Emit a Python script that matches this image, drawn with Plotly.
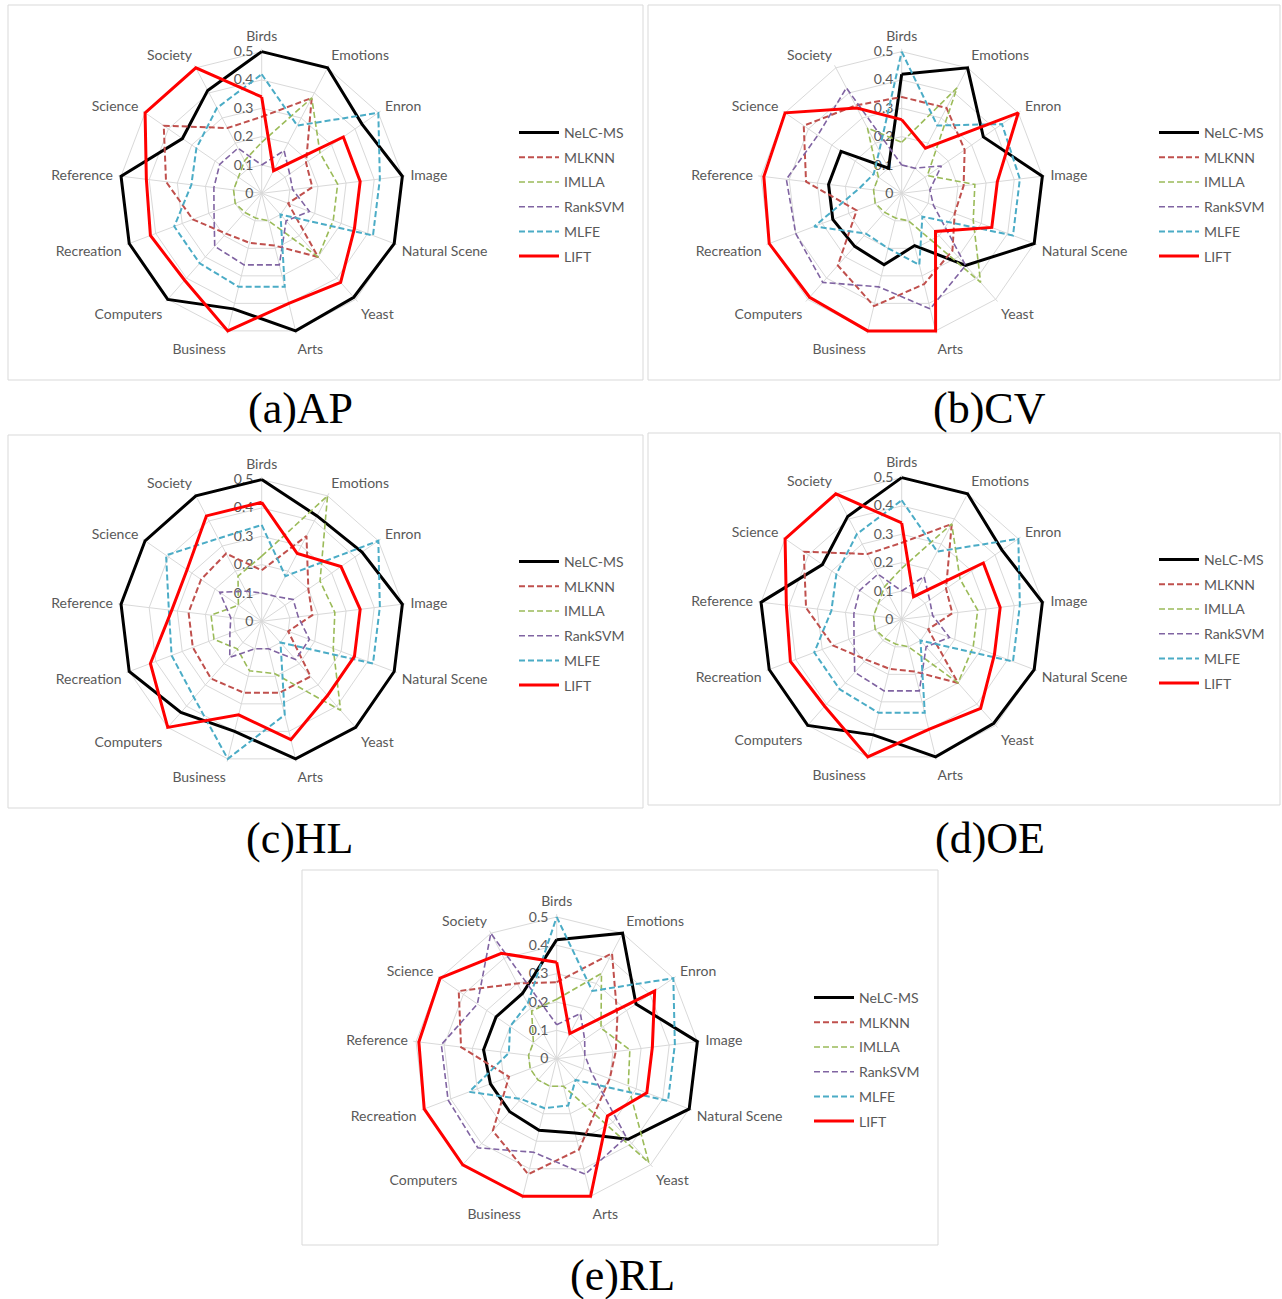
import plotly.graph_objects as go

W, H = 1282, 1299

categories = ["Birds", "Emotions", "Enron", "Image", "Natural Scene", "Yeast", "Arts",
              "Business", "Computers", "Recreation", "Reference", "Science", "Society"]
series_names = ["NeLC-MS", "MLKNN", "IMLLA", "RankSVM", "MLFE", "LIFT"]
radial_ticks = [0, 0.1, 0.2, 0.3, 0.4, 0.5]
radial_ticktext = ["0", "0.1", "0.2", "0.3", "0.4", "0.5"]
captions = ["(a)AP", "(b)CV", "(c)HL", "(d)OE", "(e)RL"]

# (a) AP
ap_nelc = [0.50, 0.50, 0.43, 0.50, 0.50, 0.49, 0.50, 0.42, 0.50, 0.50, 0.50, 0.34, 0.41]
ap_mlknn = [0.27, 0.38, 0.19, 0.18, 0.10, 0.30, 0.19, 0.18, 0.19, 0.26, 0.34, 0.42, 0.26]
ap_imlla = [0.18, 0.38, 0.25, 0.27, 0.27, 0.30, 0.10, 0.09, 0.09, 0.10, 0.10, 0.10, 0.13]
ap_ranksvm = [0.10, 0.17, 0.12, 0.11, 0.18, 0.13, 0.26, 0.26, 0.25, 0.18, 0.17, 0.18, 0.18]
ap_mlfe = [0.42, 0.27, 0.50, 0.42, 0.42, 0.10, 0.34, 0.34, 0.33, 0.33, 0.25, 0.28, 0.34]
ap_lift = [0.34, 0.09, 0.35, 0.35, 0.35, 0.42, 0.40, 0.50, 0.41, 0.42, 0.41, 0.50, 0.50]

# (b) CV
cv_nelc = [0.42, 0.50, 0.35, 0.50, 0.50, 0.34, 0.19, 0.26, 0.25, 0.26, 0.26, 0.26, 0.10]
cv_mlknn = [0.34, 0.34, 0.27, 0.22, 0.20, 0.27, 0.33, 0.41, 0.34, 0.17, 0.34, 0.42, 0.35]
cv_imlla = [0.18, 0.42, 0.11, 0.26, 0.27, 0.42, 0.10, 0.09, 0.09, 0.10, 0.10, 0.10, 0.26]
cv_ranksvm = [0.10, 0.10, 0.17, 0.10, 0.12, 0.34, 0.42, 0.34, 0.42, 0.40, 0.41, 0.36, 0.42]
cv_mlfe = [0.50, 0.27, 0.43, 0.42, 0.42, 0.11, 0.26, 0.20, 0.19, 0.33, 0.15, 0.12, 0.17]
cv_lift = [0.26, 0.18, 0.50, 0.34, 0.34, 0.18, 0.50, 0.50, 0.49, 0.50, 0.49, 0.50, 0.34]

# (c) HL
hl_nelc = [0.50, 0.42, 0.43, 0.50, 0.50, 0.50, 0.50, 0.40, 0.43, 0.50, 0.50, 0.50, 0.50]
hl_mlknn = [0.18, 0.34, 0.20, 0.18, 0.10, 0.26, 0.26, 0.26, 0.27, 0.26, 0.26, 0.26, 0.27]
hl_imlla = [0.23, 0.50, 0.25, 0.26, 0.27, 0.42, 0.19, 0.18, 0.13, 0.18, 0.18, 0.10, 0.18]
hl_ranksvm = [0.10, 0.10, 0.135, 0.13, 0.18, 0.18, 0.10, 0.10, 0.17, 0.12, 0.11, 0.18, 0.12]
hl_mlfe = [0.34, 0.18, 0.50, 0.42, 0.42, 0.10, 0.34, 0.50, 0.36, 0.34, 0.33, 0.41, 0.33]
hl_lift = [0.42, 0.27, 0.34, 0.35, 0.35, 0.35, 0.43, 0.34, 0.50, 0.42, 0.32, 0.32, 0.42]

# (d) OE
oe_nelc = [0.50, 0.50, 0.43, 0.50, 0.50, 0.49, 0.50, 0.42, 0.50, 0.50, 0.50, 0.34, 0.41]
oe_mlknn = [0.27, 0.38, 0.19, 0.18, 0.10, 0.30, 0.19, 0.18, 0.19, 0.26, 0.34, 0.42, 0.26]
oe_imlla = [0.18, 0.38, 0.25, 0.27, 0.27, 0.30, 0.10, 0.09, 0.09, 0.10, 0.10, 0.10, 0.13]
oe_ranksvm = [0.10, 0.17, 0.12, 0.11, 0.18, 0.13, 0.26, 0.26, 0.25, 0.18, 0.17, 0.18, 0.18]
oe_mlfe = [0.42, 0.27, 0.50, 0.42, 0.42, 0.10, 0.34, 0.34, 0.33, 0.33, 0.25, 0.28, 0.34]
oe_lift = [0.34, 0.09, 0.35, 0.35, 0.35, 0.42, 0.40, 0.50, 0.41, 0.42, 0.41, 0.50, 0.50]

# (e) RL
rl_nelc = [0.42, 0.50, 0.34, 0.50, 0.50, 0.38, 0.27, 0.26, 0.25, 0.25, 0.26, 0.26, 0.26]
rl_mlknn = [0.27, 0.42, 0.26, 0.21, 0.20, 0.22, 0.33, 0.42, 0.34, 0.18, 0.34, 0.42, 0.30]
rl_imlla = [0.21, 0.34, 0.19, 0.26, 0.27, 0.49, 0.10, 0.10, 0.10, 0.10, 0.10, 0.10, 0.19]
rl_ranksvm = [0.12, 0.18, 0.12, 0.10, 0.13, 0.37, 0.42, 0.34, 0.42, 0.41, 0.41, 0.34, 0.50]
rl_mlfe = [0.50, 0.27, 0.50, 0.42, 0.42, 0.10, 0.17, 0.18, 0.19, 0.33, 0.17, 0.20, 0.22]
rl_lift = [0.34, 0.10, 0.42, 0.34, 0.34, 0.27, 0.50, 0.50, 0.50, 0.50, 0.49, 0.50, 0.42]

panels = [
    [ap_nelc, ap_mlknn, ap_imlla, ap_ranksvm, ap_mlfe, ap_lift],
    [cv_nelc, cv_mlknn, cv_imlla, cv_ranksvm, cv_mlfe, cv_lift],
    [hl_nelc, hl_mlknn, hl_imlla, hl_ranksvm, hl_mlfe, hl_lift],
    [oe_nelc, oe_mlknn, oe_imlla, oe_ranksvm, oe_mlfe, oe_lift],
    [rl_nelc, rl_mlknn, rl_imlla, rl_ranksvm, rl_mlfe, rl_lift],
]

# styles
colors = ["#000000", "#C0504D", "#9BBB59", "#8064A2", "#4BACC6", "#FF0000"]
widths = [3, 2, 1.6, 1.6, 2, 3]
dashes = ["solid", "6px,3px", "6px,3px", "6px,3px", "6px,3px", "solid"]

# layout geometry (pixels)
centers = [(261.7, 193.3), (901.7, 193.3), (261.7, 621.3), (901.7, 619.3), (556.7, 1058.7)]
R_MAX = 0.51                       # a little headroom so lines on the 0.5 ring are not clipped
R = 141.7 * R_MAX / 0.5
legend_pos = [(514, 117), (1154, 117), (514, 546), (1154, 544), (809, 982)]
boxes = [(8, 5, 643, 380), (648, 5, 1280, 380), (8, 435, 643, 808),
         (648, 433, 1280, 805), (302, 870, 938, 1245)]
caption_pos = [(300, 408), (990, 408), (300, 838), (990, 838), (622, 1275)]

GRID = "#D9D9D9"
TXT = "#595959"
FONT = "Lato, Open Sans, sans-serif"

fig = go.Figure()

for p, data in enumerate(panels):
    sub = "polar" if p == 0 else f"polar{p+1}"
    leg = "legend" if p == 0 else f"legend{p+1}"
    for s, vals in enumerate(data):
        fig.add_trace(go.Scatterpolar(
            r=vals + vals[:1],
            theta=categories + categories[:1],
            mode="lines",
            name=series_names[s],
            line=dict(color=colors[s], width=widths[s], dash=dashes[s]),
            subplot=sub,
            legend=leg,
            legendgroup=f"g{p}_{s}",
            cliponaxis=False,
            hoverinfo="skip",
        ))

layout = dict(
    width=W, height=H,
    margin=dict(l=0, r=0, t=0, b=0),
    paper_bgcolor="white",
    plot_bgcolor="white",
    font=dict(family=FONT, color=TXT, size=13),
    shapes=[],
    annotations=[],
)

for p, (cx, cy) in enumerate(centers):
    sub = "polar" if p == 0 else f"polar{p+1}"
    leg = "legend" if p == 0 else f"legend{p+1}"
    layout[sub] = dict(
        domain=dict(x=[(cx - R) / W, (cx + R) / W], y=[1 - (cy + R) / H, 1 - (cy - R) / H]),
        bgcolor="rgba(0,0,0,0)",
        gridshape="linear",
        angularaxis=dict(
            type="category",
            categoryorder="array",
            categoryarray=categories,
            direction="clockwise",
            rotation=90,
            layer="below traces",
            showgrid=True, gridcolor=GRID, gridwidth=1,
            showline=False,
            ticks="outside", ticklen=2, tickcolor="rgba(0,0,0,0)",
            tickfont=dict(family=FONT, size=14, color=TXT),
        ),
        radialaxis=dict(
            range=[0, R_MAX],
            tickvals=radial_ticks,
            ticktext=radial_ticktext,
            angle=90,
            tickangle=90,
            side="counterclockwise",
            layer="below traces",
            showgrid=True, gridcolor=GRID, gridwidth=1,
            showline=False,
            ticks="outside", ticklen=3, tickcolor="rgba(0,0,0,0)",
            tickfont=dict(family=FONT, size=14, color=TXT),
        ),
    )
    lx, ly = legend_pos[p]
    layout[leg] = dict(
        x=lx / W, y=1 - ly / H, xanchor="left", yanchor="top",
        font=dict(family=FONT, size=14, color=TXT),
        bgcolor="rgba(0,0,0,0)",
        tracegroupgap=3.5,
        traceorder="grouped",
        itemwidth=40,
        itemclick=False, itemdoubleclick=False,
    )
    x0, y0, x1, y1 = boxes[p]
    layout["shapes"].append(dict(
        type="rect", xref="paper", yref="paper",
        x0=x0 / W, x1=x1 / W, y0=1 - y1 / H, y1=1 - y0 / H,
        line=dict(color=GRID, width=1), fillcolor="rgba(0,0,0,0)", layer="below",
    ))
    tx, ty = caption_pos[p]
    layout["annotations"].append(dict(
        text=captions[p], xref="paper", yref="paper",
        x=tx / W, y=1 - ty / H, xanchor="center", yanchor="middle",
        showarrow=False,
        font=dict(family="Liberation Serif, Times New Roman, serif", size=44, color="#000000"),
    ))

fig.update_layout(**layout)
fig.write_html("out.html")
